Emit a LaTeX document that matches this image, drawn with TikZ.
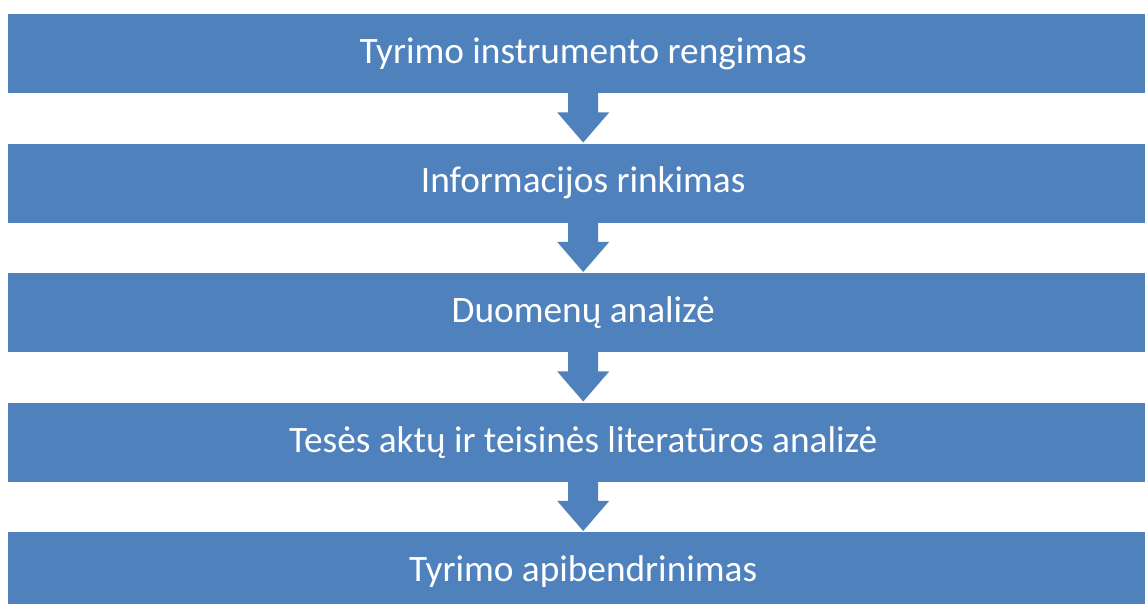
\documentclass[tikz,border=0pt]{standalone}
\usepackage{fontspec}
\setmainfont{Carlito}
\usetikzlibrary{calc}
\definecolor{boxblue}{HTML}{4F81BD}
\tikzset{
  stepbox/.style={fill=boxblue, draw=none, minimum width=1150pt, minimum height=79pt,
    inner sep=0pt, anchor=north west, text=white, font=\fontsize{37.3}{41}\selectfont},
  blockarrow/.style={fill=boxblue, draw=none}
}
\newcommand{\blockarr}[2]{%
  \fill[blockarrow] ($(#1.south)+(-15pt,1pt)$) -- ($(#1.south)+(-15pt,-19pt)$)
    -- ($(#1.south)+(-26pt,-19pt)$) -- ($(#2.north)+(0,1pt)$)
    -- ($(#1.south)+(26pt,-19pt)$) -- ($(#1.south)+(15pt,-19pt)$)
    -- ($(#1.south)+(15pt,1pt)$) -- cycle;}
\begin{document}
\begin{tikzpicture}[x=1pt,y=-1pt]
\useasboundingbox (0,0) rectangle (1145,603);
\clip (0,0) rectangle (1145,603);
\node[stepbox] (b1) at (8,14) {Tyrimo instrumento rengimas};
\node[stepbox] (b2) at (8,143.5) {Informacijos rinkimas};
\node[stepbox] (b3) at (8,273) {Duomenų analizė};
\node[stepbox] (b4) at (8,402.5) {Tesės aktų ir teisinės literatūros analizė};
\node[stepbox] (b5) at (8,532) {Tyrimo apibendrinimas};
\blockarr{b1}{b2}
\blockarr{b2}{b3}
\blockarr{b3}{b4}
\blockarr{b4}{b5}
\end{tikzpicture}
\end{document}
